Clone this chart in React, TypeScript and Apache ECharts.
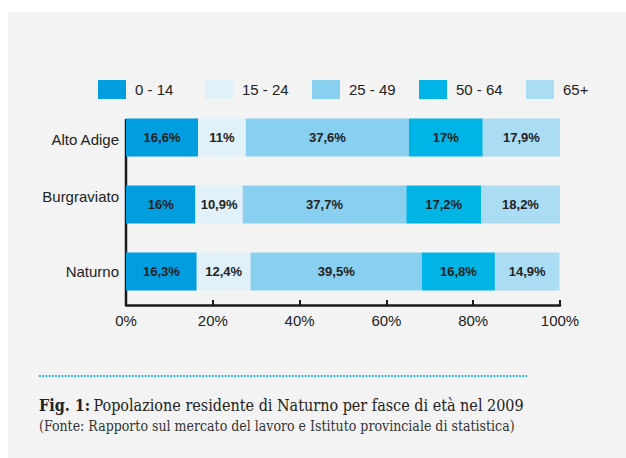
import React, { useEffect, useRef } from "react";
import * as echarts from "echarts";

const categories = ["Alto Adige", "Burgraviato", "Naturno"];
const ageGroups = ["0 - 14", "15 - 24", "25 - 49", "50 - 64", "65+"];
const v0to14 = [16.6, 16, 16.3];
const v15to24 = [11, 10.9, 12.4];
const v25to49 = [37.6, 37.7, 39.5];
const v50to64 = [17, 17.2, 16.8];
const v65plus = [17.9, 18.2, 14.9];
const xTicks = [0, 20, 40, 60, 80, 100];
const captionTitle = "Fig. 1:";
const captionText = "Popolazione residente di Naturno per fasce di età nel 2009";
const captionSource = "(Fonte: Rapporto sul mercato del lavoro e Istituto provinciale di statistica)";

const colors = ["#009ddf", "#e0f1fa", "#88cff0", "#00b4e6", "#aadcf4"];
const seriesValues = [v0to14, v15to24, v25to49, v50to64, v65plus];
const legendLefts = [98, 205, 312, 419, 526];

export default function App() {
  const ref = useRef<HTMLDivElement>(null);
  useEffect(() => {
    if (!ref.current) return;
    const chart = echarts.init(ref.current, undefined, { renderer: "svg" });
    const font = "'Liberation Sans', Arial, Helvetica, sans-serif";
    const serif = "'DejaVu Serif Condensed', 'DejaVu Serif', serif";
    chart.setOption({
      animation: false,
      backgroundColor: "#ffffff",
      color: colors,
      textStyle: { fontFamily: font },
      legend: ageGroups.map((g, i) => ({
        data: [g],
        left: legendLefts[i],
        top: 80,
        itemWidth: 28,
        itemHeight: 19,
        icon: "rect",
        selectedMode: false,
        padding: 0,
        textStyle: { fontSize: 15, color: "#222", fontFamily: font, padding: [0, 0, 0, 4] },
      })),
      grid: { left: 126, right: 66, top: 104, bottom: 153, containLabel: false },
      xAxis: {
        type: "value",
        min: 0,
        max: 100,
        interval: 20,
        axisLine: { show: true, lineStyle: { color: "#1a1a1a", width: 2.5 } },
        axisTick: { show: true, inside: true, length: 5, lineStyle: { color: "#1a1a1a", width: 2 } },
        splitLine: { show: false },
        axisLabel: {
          fontSize: 15,
          color: "#222",
          margin: 8,
          fontFamily: font,
          formatter: (v: number) => (xTicks.includes(v) ? v + "%" : ""),
        },
      },
      yAxis: {
        type: "category",
        data: categories,
        inverse: true,
        axisLine: { show: false },
        axisTick: { show: false },
        axisLabel: {
          fontSize: 15,
          color: "#222",
          margin: 7,
          fontFamily: font,
          formatter: (v: string) => (v === "Burgraviato" ? "{up|" + v + "}" : v === "Alto Adige" ? "{dn|" + v + "}" : v),
          rich: {
            up: { fontSize: 15, color: "#222", fontFamily: font, padding: [0, 0, 16, 0] },
            dn: { fontSize: 15, color: "#222", fontFamily: font, padding: [4, 0, 0, 0] },
          },
        },
      },
      series: ageGroups.map((g, i) => ({
        name: g,
        type: "bar",
        stack: "total",
        barWidth: 38,
        data: seriesValues[i],
        itemStyle: { color: colors[i] },
        label: {
          show: true,
          position: "inside",
          fontSize: 13,
          fontWeight: "bold",
          color: "#222",
          fontFamily: font,
          formatter: (p: any) => String(p.value).replace(".", ",") + "%",
        },
      })),
      graphic: [
        {
          type: "rect",
          z: -10,
          silent: true,
          shape: { x: 8, y: 12, width: 640, height: 460, r: 2 },
          style: { fill: "#f3f3f3" },
        },
        {
          type: "line",
          silent: true,
          shape: { x1: 126, y1: 119, x2: 126, y2: 305 },
          style: { stroke: "#1a1a1a", lineWidth: 2.5 },
        },
        {
          type: "line",
          silent: true,
          shape: { x1: 39, y1: 376, x2: 527, y2: 376 },
          style: { stroke: "#19b6e6", lineWidth: 2, lineDash: [1.8, 1.4] },
        },
        {
          type: "text",
          silent: true,
          x: 39,
          y: 405,
          style: {
            text: "{b|" + captionTitle + "} {n|" + captionText + "}",
            verticalAlign: "middle",
            rich: {
              b: { fontFamily: serif, fontSize: 16, fontWeight: "bold", fill: "#222" },
              n: { fontFamily: serif, fontSize: 16, fill: "#222" },
            },
          },
        },
        {
          type: "text",
          silent: true,
          x: 39,
          y: 426,
          style: {
            text: captionSource,
            verticalAlign: "middle",
            fontFamily: serif,
            fontSize: 14,
            fill: "#333",
          },
        },
      ],
    });
    return () => chart.dispose();
  }, []);
  return (
    <div
      ref={ref}
      style={{ position: "fixed", left: 0, top: 0, width: 626, height: 458 }}
    />
  );
}
